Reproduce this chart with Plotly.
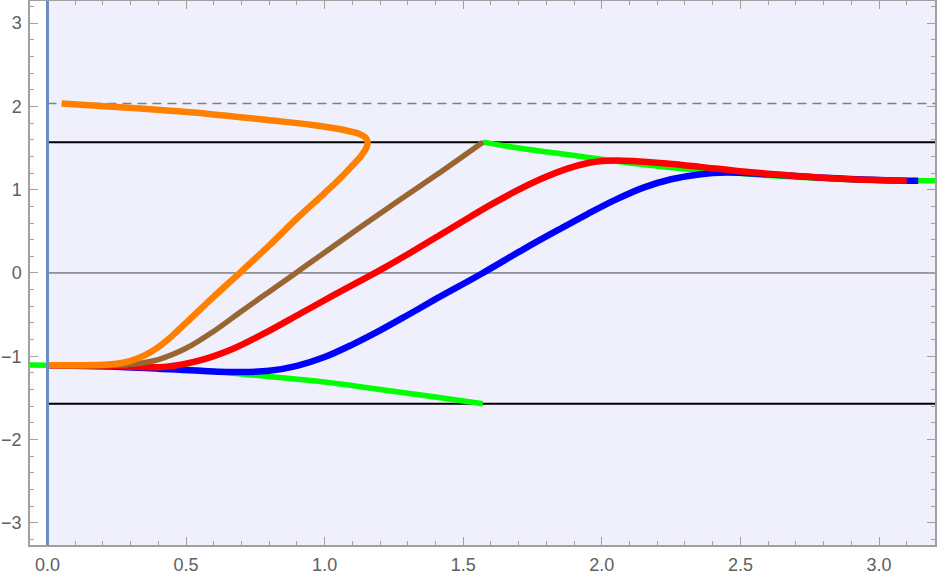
import plotly.graph_objects as go

# horizontal reference levels
bound_levels = [1.5708, -1.5708]
zero_level = [0.0]
dashed_level = [2.0344]

# green branches
green_lo_x = [-0.063, 0.0, 0.25, 0.5, 0.75, 1.0, 1.2, 1.4, 1.5708]
green_lo_y = [-1.105, -1.107, -1.12, -1.155, -1.23, -1.31, -1.40, -1.49, -1.5708]
green_hi_x = [1.5708, 1.7, 1.9, 2.1, 2.354, 2.6, 2.8, 3.0, 3.202]
green_hi_y = [1.5708, 1.50, 1.41, 1.32, 1.232, 1.17, 1.135, 1.112, 1.107]

# blue
blue_x = [0.0, 0.2, 0.4, 0.55, 0.7, 0.8, 0.9, 1.0, 1.1, 1.2, 1.3, 1.4, 1.5708,
          1.72, 1.85, 1.95, 2.05, 2.15, 2.25, 2.35, 2.45, 2.6, 2.8, 3.0, 3.1416]
blue_y = [-1.107, -1.12, -1.15, -1.175, -1.19, -1.175, -1.115, -1.01, -0.86, -0.69, -0.505, -0.315, 0.0,
          0.29, 0.53, 0.71, 0.88, 1.025, 1.125, 1.183, 1.205, 1.185, 1.143, 1.117, 1.107]

# red
red_x = [0.0, 0.2, 0.43, 0.55, 0.67, 0.791, 0.911, 1.031, 1.2, 1.3, 1.416, 1.5, 1.6, 1.7,
         1.78, 1.873, 1.95, 2.0, 2.05, 2.113, 2.234, 2.354, 2.498, 2.715, 2.9, 3.10]
red_y = [-1.107, -1.117, -1.125, -1.05, -0.91, -0.71, -0.49, -0.27, 0.034, 0.224, 0.456, 0.624, 0.82, 1.0,
         1.128, 1.25, 1.32, 1.345, 1.352, 1.345, 1.314, 1.274, 1.222, 1.162, 1.125, 1.108]

# brown
brown_x = [0.0, 0.2, 0.3, 0.4, 0.5, 0.6, 0.7, 0.8, 0.9, 1.0, 1.2, 1.4, 1.5708]
brown_y = [-1.107, -1.113, -1.098, -1.04, -0.905, -0.70, -0.46, -0.225, 0.01, 0.245, 0.715, 1.17, 1.5708]

# orange (folds back)
orange_x = [0.0, 0.1, 0.2, 0.25, 0.3, 0.35, 0.4, 0.45, 0.5, 0.6, 0.7, 0.8, 0.9, 1.0, 1.06,
            1.1, 1.13, 1.15, 1.155, 1.148, 1.125, 1.085, 1.03, 0.95, 0.815, 0.574, 0.334, 0.051]
orange_y = [-1.107, -1.108, -1.103, -1.09, -1.055, -0.99, -0.89, -0.755, -0.60, -0.285, 0.02, 0.33, 0.655, 0.96, 1.15,
            1.29, 1.40, 1.50, 1.57, 1.625, 1.67, 1.705, 1.74, 1.78, 1.83, 1.913, 1.975, 2.035]

x_range = [-0.063, 3.202]
y_range = [-3.267, 3.266]

fig = go.Figure()

for lvl in bound_levels:
    fig.add_trace(go.Scatter(x=[0, x_range[1]], y=[lvl, lvl], mode="lines",
                             line=dict(color="black", width=2)))
for lvl in zero_level:
    fig.add_trace(go.Scatter(x=[0, x_range[1]], y=[lvl, lvl], mode="lines",
                             line=dict(color="#444444", width=1)))
for lvl in dashed_level:
    fig.add_trace(go.Scatter(x=[0, x_range[1]], y=[lvl, lvl], mode="lines",
                             line=dict(color="#808080", width=1.5, dash="9px,6px")))

curves = [
    (green_lo_x, green_lo_y, "#00FF00", 5.5),
    (green_hi_x, green_hi_y, "#00FF00", 5.5),
    (blue_x, blue_y, "#0000FF", 6.5),
    (red_x, red_y, "#FF0000", 6.5),
    (brown_x, brown_y, "#996633", 5.5),
    (orange_x, orange_y, "#FF8000", 6.5),
]
for xs, ys, col, w in curves:
    fig.add_trace(go.Scatter(x=xs, y=ys, mode="lines",
                             line=dict(color=col, width=w, shape="spline", smoothing=1.0)))

fig.add_shape(type="rect", x0=0, x1=x_range[1], y0=y_range[0], y1=y_range[1],
              fillcolor="#F0F0FC", line=dict(width=0), layer="below")
fig.add_shape(type="line", x0=0, x1=0, y0=y_range[0], y1=y_range[1],
              line=dict(color="#6B8CC0", width=3), layer="above")

axis_style = dict(
    showgrid=False, zeroline=False, showline=True, linecolor="#A0A0A0", linewidth=1.5,
    mirror="ticks", ticks="inside", ticklen=8, tickcolor="#A0A0A0", tickwidth=1,
    automargin=False,
    tickfont=dict(family="Liberation Sans, Arial, sans-serif", size=18, color="#606060"),
)

fig.update_xaxes(range=x_range, tickvals=[0, 0.5, 1.0, 1.5, 2.0, 2.5, 3.0], tickformat=".1f",
                 ticklabelstandoff=3,
                 minor=dict(dtick=0.1, tick0=0, ticks="inside", ticklen=4, tickcolor="#A0A0A0"),
                 **axis_style)
fig.update_yaxes(range=y_range, tickvals=[-3, -2, -1, 0, 1, 2, 3],
                 ticklabelstandoff=3,
                 minor=dict(dtick=0.2, tick0=0, ticks="inside", ticklen=4, tickcolor="#A0A0A0"),
                 **axis_style)

fig.update_layout(
    width=940, height=580, showlegend=False,
    margin=dict(l=30, r=5, t=1, b=35, autoexpand=False),
    plot_bgcolor="white", paper_bgcolor="white",
)

fig.write_html("out.html", config={"displayModeBar": False},
               post_script="document.body.style.margin='0';")
